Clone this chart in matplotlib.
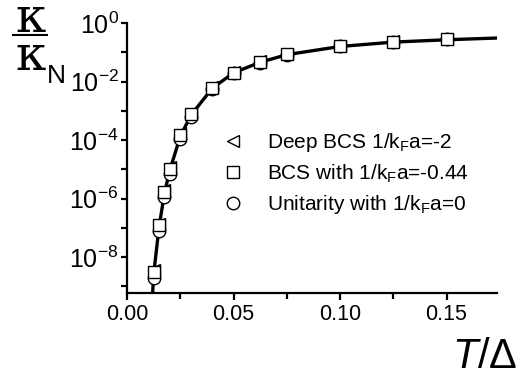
import numpy as np
import matplotlib
matplotlib.use("Agg")
import matplotlib.pyplot as plt
from matplotlib.ticker import FixedLocator, NullFormatter

plt.rcParams['font.family'] = 'Liberation Sans'
plt.rcParams['mathtext.fontset'] = 'custom'
plt.rcParams['mathtext.rm'] = 'Liberation Sans'
plt.rcParams['mathtext.it'] = 'Liberation Sans:italic'

# T/Delta values of the data points
t_pts = [0.0125, 0.015, 0.0175, 0.02, 0.025, 0.03, 0.04, 0.05, 0.0625, 0.075, 0.1, 0.125, 0.15]
# log10(kappa/kappa_N)
deep_bcs = [-8.46, -6.86, -5.71, -4.92, -3.77, -3.07, -2.17, -1.66, -1.30, -1.04, -0.77, -0.62, -0.54]
bcs = [-8.52, -6.92, -5.77, -4.98, -3.82, -3.11, -2.21, -1.69, -1.33, -1.07, -0.79, -0.64, -0.56]
unitarity = [-8.72, -7.12, -5.95, -5.15, -3.95, -3.20, -2.26, -1.72, -1.35, -1.08, -0.80, -0.65, -0.56]

# solid curve
t_line = [0.0119, 0.0125, 0.015, 0.0175, 0.02, 0.025, 0.03, 0.04, 0.05, 0.0625, 0.075, 0.1, 0.125, 0.15, 0.174]
k_line = [-9.4, -8.60, -7.00, -5.85, -5.05, -3.88, -3.15, -2.23, -1.70, -1.34, -1.08, -0.80, -0.65, -0.57, -0.51]

fig = plt.figure(figsize=(5.24, 3.78), dpi=100)
ax = fig.add_axes([0.2424, 0.2249, 0.7061, 0.7140])

ax.plot(t_line, 10 ** np.array(k_line), color='black', lw=2.4, zorder=2)
ms = 9
ax.plot(t_pts, 10 ** np.array(deep_bcs), '<', ms=ms, mfc='white', mec='black', mew=1.0,
        ls='none', zorder=3, label='Deep BCS 1/k$_\\mathregular{F}$a=-2')
ax.plot(t_pts, 10 ** np.array(unitarity), 'o', ms=ms, mfc='white', mec='black', mew=1.0,
        ls='none', zorder=4, label='Unitarity with 1/k$_\\mathregular{F}$a=0')
ax.plot(t_pts, 10 ** np.array(bcs), 's', ms=ms, mfc='white', mec='black', mew=1.0,
        ls='none', zorder=5, label='BCS with 1/k$_\\mathregular{F}$a=-0.44')

ax.set_yscale('log')
ax.set_xlim(0, 0.1737)
ax.set_ylim(10 ** -9.23, 1)

for s in ['top', 'right']:
    ax.spines[s].set_visible(False)
for s in ['left', 'bottom']:
    ax.spines[s].set_linewidth(1.6)

ax.set_xticks([0, 0.05, 0.10, 0.15])
ax.set_xticklabels(['0.00', '0.05', '0.10', '0.15'], fontsize=15.5)
ax.xaxis.set_minor_locator(FixedLocator([0.025, 0.075, 0.125]))
ax.tick_params(axis='x', which='major', length=5, width=1.6, direction='out', pad=3)
ax.tick_params(axis='x', which='minor', length=4, width=1.6, direction='out')

ymaj = [0, -2, -4, -6, -8]
ax.yaxis.set_major_locator(FixedLocator([10.0 ** e for e in ymaj]))
ax.set_yticklabels(['$\\mathregular{10^{%d}}$' % e for e in ymaj], fontsize=18)
ax.yaxis.set_minor_locator(FixedLocator([10.0 ** e for e in [-1, -3, -5, -7, -9]]))
ax.yaxis.set_minor_formatter(NullFormatter())
ax.tick_params(axis='y', which='both', length=4, width=1.6, direction='out', pad=2)

handles, labels = ax.get_legend_handles_labels()
order = [0, 2, 1]
ax.legend([handles[i] for i in order], [labels[i] for i in order],
          loc='upper left', bbox_to_anchor=(0.23, 0.63), frameon=False,
          fontsize=15, handletextpad=1.03, labelspacing=0.4, handlelength=1.2,
          borderaxespad=0)

# y label: kappa / kappa_N
fig.text(0.059, 1 - 32 / 378, '\u03ba', fontsize=35, family='DejaVu Serif',
         ha='center', va='baseline')
fig.add_artist(plt.Line2D([0.025, 0.09], [1 - 35 / 378, 1 - 35 / 378], color='black', lw=1.5))
fig.text(0.059, 1 - 70 / 378, '\u03ba', fontsize=35, family='DejaVu Serif',
         ha='center', va='baseline')
fig.text(0.107, 1 - 83 / 378, 'N', fontsize=19, ha='center', va='baseline')

# x label
fig.text(0.926, 1 - 368 / 378, '$\\mathit{T}$/\u0394', fontsize=30, ha='center', va='baseline')

fig.savefig('out.png', dpi=100)
